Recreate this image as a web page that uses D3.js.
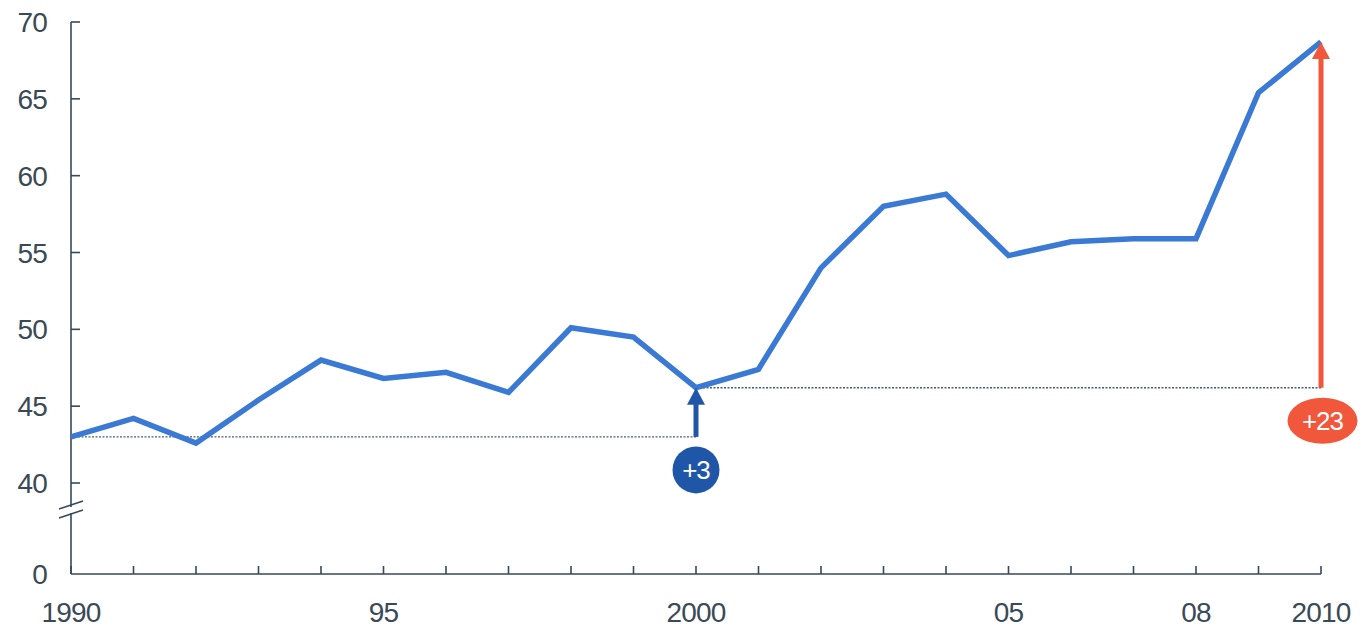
<!DOCTYPE html>
<html>
<head>
<meta charset="utf-8">
<script src="https://cdn.jsdelivr.net/npm/d3@7"></script>
<style>
  html, body { margin: 0; padding: 0; background: #ffffff; }
  svg { display: block; }
  text { font-family: "Liberation Sans", Arial, sans-serif; }
</style>
</head>
<body>
<svg id="chart" width="1367" height="629"></svg>
<script>
// Annual series, 1990–2010
const years = [1990, 1991, 1992, 1993, 1994, 1995, 1996, 1997, 1998, 1999, 2000,
               2001, 2002, 2003, 2004, 2005, 2006, 2007, 2008, 2009, 2010];
const values = [43.0, 44.2, 42.6, 45.4, 48.0, 46.8, 47.2, 45.9, 50.1, 49.5, 46.2,
                47.4, 54.0, 58.0, 58.8, 54.8, 55.7, 55.9, 55.9, 65.4, 68.7];

const yTicks = [0, 40, 45, 50, 55, 60, 65, 70];
const xTickLabels = [
  { year: 1990, label: "1990" },
  { year: 1995, label: "95" },
  { year: 2000, label: "2000" },
  { year: 2005, label: "05" },
  { year: 2008, label: "08" },
  { year: 2010, label: "2010" }
];

// Change annotations: from base year to target year
const changes = [
  { from: 1990, to: 2000, label: "+3", color: "#1f56a8", shape: "circle" },
  { from: 2000, to: 2010, label: "+23", color: "#f0573b", shape: "ellipse" }
];

const svg = d3.select("#chart");
const axisColor = "#36495a";
const textColor = "#3a4956";

const x = d3.scaleLinear().domain([1990, 2010]).range([71, 1321]);
// broken value axis: 0 sits below a gap, 40–70 fills the main band
const y = d3.scaleLinear().domain([0, 40, 70]).range([574, 483, 22]);

const valueOf = yr => values[years.indexOf(yr)];

// y axis line with break marks
const breakTop = 505, breakBot = 514;
svg.append("line").attr("x1", x(1990)).attr("x2", x(1990))
  .attr("y1", y(70)).attr("y2", breakTop + 2)
  .attr("stroke", axisColor).attr("stroke-width", 1.6);
svg.append("line").attr("x1", x(1990)).attr("x2", x(1990))
  .attr("y1", breakBot - 1).attr("y2", y(0))
  .attr("stroke", axisColor).attr("stroke-width", 1.6);
[breakTop, breakBot].forEach(by => {
  svg.append("line")
    .attr("x1", x(1990) - 12).attr("y1", by + 4)
    .attr("x2", x(1990) + 12).attr("y2", by - 4)
    .attr("stroke", axisColor).attr("stroke-width", 1.6);
});

// y ticks and labels
yTicks.forEach(t => {
  if (t !== 0) {
    svg.append("line").attr("x1", x(1990)).attr("x2", x(1990) + 9)
      .attr("y1", y(t)).attr("y2", y(t))
      .attr("stroke", axisColor).attr("stroke-width", 1.6);
  }
  svg.append("text").attr("x", 47).attr("y", y(t))
    .attr("dy", "0.36em").attr("text-anchor", "end")
    .attr("font-size", 28).attr("fill", textColor)
    .attr("letter-spacing", -0.8)
    .text(t);
});

// x axis baseline and upward year ticks
svg.append("line").attr("x1", x(1990)).attr("x2", x(2010))
  .attr("y1", y(0)).attr("y2", y(0))
  .attr("stroke", axisColor).attr("stroke-width", 1.6);
years.forEach(yr => {
  svg.append("line").attr("x1", x(yr)).attr("x2", x(yr))
    .attr("y1", y(0)).attr("y2", y(0) - 8)
    .attr("stroke", axisColor).attr("stroke-width", 1.6);
});
xTickLabels.forEach(d => {
  svg.append("text").attr("x", x(d.year)).attr("y", 622)
    .attr("text-anchor", "middle")
    .attr("font-size", 28).attr("fill", textColor)
    .attr("letter-spacing", -0.8)
    .text(d.label);
});

// dotted reference levels
changes.forEach(c => {
  svg.append("line")
    .attr("x1", x(c.from)).attr("x2", x(c.to))
    .attr("y1", y(valueOf(c.from))).attr("y2", y(valueOf(c.from)))
    .attr("stroke", "#4a5c78").attr("stroke-width", 1.3)
    .attr("stroke-dasharray", "2,1.5");
});

// main series line
const line = d3.line().x((d, i) => x(years[i])).y(d => y(d));
svg.append("path").datum(values)
  .attr("d", line)
  .attr("fill", "none")
  .attr("stroke", "#3a79d4")
  .attr("stroke-width", 5.5)
  .attr("stroke-linejoin", "miter");

// change arrows and badges
changes.forEach(c => {
  const cx = x(c.to);
  const yBase = y(valueOf(c.from));
  const yTip = y(valueOf(c.to));
  const headH = 17, headW = 9;
  svg.append("line").attr("x1", cx).attr("x2", cx)
    .attr("y1", yBase).attr("y2", yTip + headH - 1)
    .attr("stroke", c.color).attr("stroke-width", 5);
  svg.append("path")
    .attr("d", `M${cx},${yTip} L${cx - headW},${yTip + headH} L${cx + headW},${yTip + headH} Z`)
    .attr("fill", c.color);

  const badgeY = yBase + 33;
  const bx = c.shape === "circle" ? cx : cx + 1.5;
  if (c.shape === "circle") {
    svg.append("circle").attr("cx", bx).attr("cy", badgeY).attr("r", 23.5)
      .attr("fill", c.color);
  } else {
    svg.append("ellipse").attr("cx", bx).attr("cy", badgeY).attr("rx", 35).attr("ry", 23)
      .attr("fill", c.color);
  }
  svg.append("text").attr("x", bx).attr("y", badgeY)
    .attr("dy", "0.36em").attr("text-anchor", "middle")
    .attr("font-size", 26).attr("fill", "#ffffff")
    .attr("letter-spacing", -1)
    .text(c.label);
});
</script>
</body>
</html>
